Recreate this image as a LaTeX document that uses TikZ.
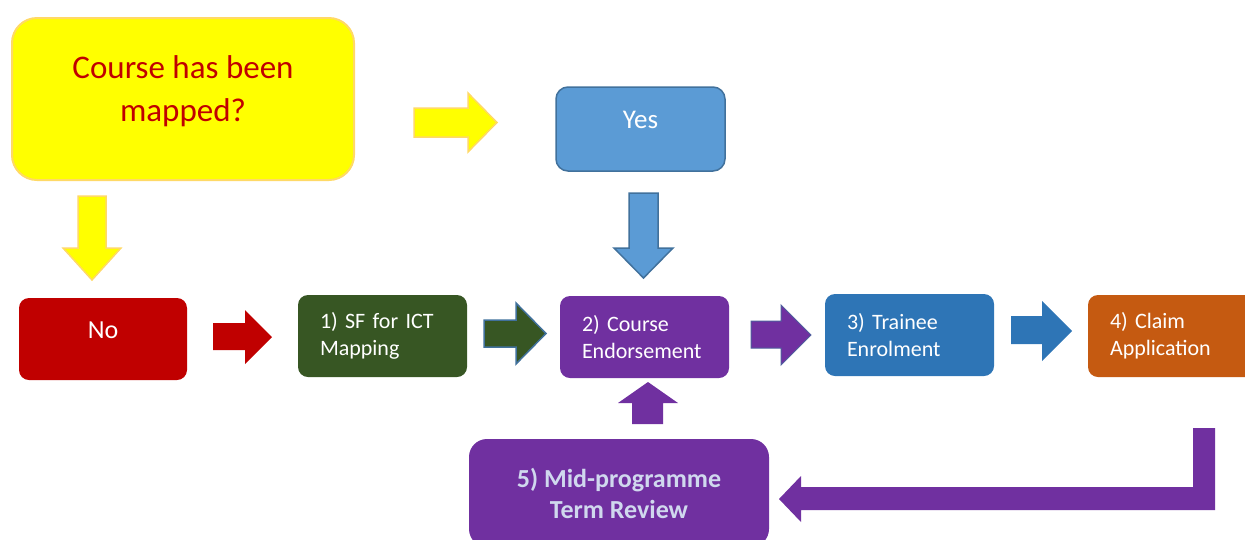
\documentclass[tikz,border=0pt]{standalone}
\usepackage{fontspec}
\setmainfont{Carlito}
\definecolor{qyellow}{HTML}{FFFF00}
\definecolor{qborder}{HTML}{FFD966}
\definecolor{qtext}{HTML}{C00000}
\definecolor{nored}{HTML}{C00000}
\definecolor{sfgreen}{HTML}{375623}
\definecolor{cepurple}{HTML}{7030A0}
\definecolor{teblue}{HTML}{2E75B6}
\definecolor{caorange}{HTML}{C55A11}
\definecolor{yesblue}{HTML}{5B9BD5}
\definecolor{yesborder}{HTML}{41719C}
\definecolor{midtext}{HTML}{D0D8EE}
\begin{document}
\begin{tikzpicture}[x=1pt,y=-1pt,
  box/.style={rounded corners=10pt, minimum width=169pt, minimum height=82pt, inner sep=0pt},
  steptext/.style={text=white, font=\fontsize{22}{27}\selectfont, align=left, text width=125pt},
  blockarrow/.style={line width=1pt, line join=miter}]
\useasboundingbox (0,0) rectangle (1245,539);

% question box
\node[box, rounded corners=25pt, minimum width=342pt, minimum height=162pt,
      fill=qyellow, draw=qborder, line width=2pt,
      label={[text=qtext, font=\fontsize{33}{43}\selectfont, align=center, yshift=7.5pt]center:Course has been\\mapped?}]
      (q) at (183,99) {};

\node[box, rounded corners=12pt, minimum height=84pt, fill=yesblue, draw=yesborder, line width=1.5pt,
      label={[text=white, font=\fontsize{27}{32}\selectfont, yshift=9pt]center:Yes}]
      (yes) at (640.5,129) {};

\node[box, minimum width=168pt, fill=nored,
      label={[text=white, font=\fontsize{26}{32}\selectfont, yshift=9pt]center:No}]
      (no) at (103,339) {};

\node[box, fill=sfgreen, steptext] (sf) at (382.5,336) {1) SF for ICT\\Mapping};
\node[box, fill=cepurple, steptext] (ce) at (644.5,337) {2) Course\\Endorsement};
\node[box, fill=teblue, steptext] (te) at (909.5,335) {3) Trainee\\Enrolment};
\node[box, fill=caorange, steptext] (ca) at (1172.5,336) {4) Claim\\Application};

\node[box, rounded corners=18pt, minimum width=300pt, minimum height=108pt, fill=cepurple,
      text=midtext, font=\bfseries\fontsize{26}{31}\selectfont, align=center]
      (mid) at (619,493) {5) Mid-programme\\Term Review};

% yellow right arrow
\filldraw[blockarrow, fill=qyellow, draw=qborder, line width=1.5pt]
  (414,108) -- (468,108) -- (468,93) -- (497,122.5) -- (468,152) -- (468,137) -- (414,137) -- cycle;
% yellow down arrow
\filldraw[blockarrow, fill=qyellow, draw=qborder, line width=1.5pt]
  (78,196) -- (106,196) -- (106,248) -- (121,248) -- (92,280) -- (63,248) -- (78,248) -- cycle;
% blue down arrow
\filldraw[blockarrow, fill=yesblue, draw=yesborder, line width=1.5pt]
  (629,193) -- (658,193) -- (658,248) -- (673,248) -- (643.5,278) -- (614,248) -- (629,248) -- cycle;
% red right arrow
\fill[nored]
  (213,323) -- (245,323) -- (245,310) -- (272,337) -- (245,364) -- (245,350) -- (213,350) -- cycle;
% green right arrow
\filldraw[blockarrow, fill=sfgreen, draw=yesborder, line width=1.5pt]
  (484,320) -- (516,320) -- (516,303) -- (546,333.5) -- (516,364) -- (516,347) -- (484,347) -- cycle;
% purple right arrow
\filldraw[blockarrow, fill=cepurple, draw=yesborder!70!cepurple, line width=1pt]
  (751,321) -- (781,321) -- (781,305) -- (811,335) -- (781,365) -- (781,348) -- (751,348) -- cycle;
% blue right arrow
\fill[teblue]
  (1011,316) -- (1042,316) -- (1042,301) -- (1072,331) -- (1042,361) -- (1042,344) -- (1011,344) -- cycle;
% purple up arrow
\fill[cepurple]
  (632,424) -- (632,403) -- (618,403) -- (648,382) -- (678,403) -- (663,403) -- (663,424) -- cycle;
% L-shaped return arrow
\fill[cepurple]
  (1193,428) -- (1215,428) -- (1215,510) -- (801,510) -- (801,522) -- (779,499) -- (801,476)
  -- (801,487) -- (1193,487) -- cycle;
\end{tikzpicture}
\end{document}
